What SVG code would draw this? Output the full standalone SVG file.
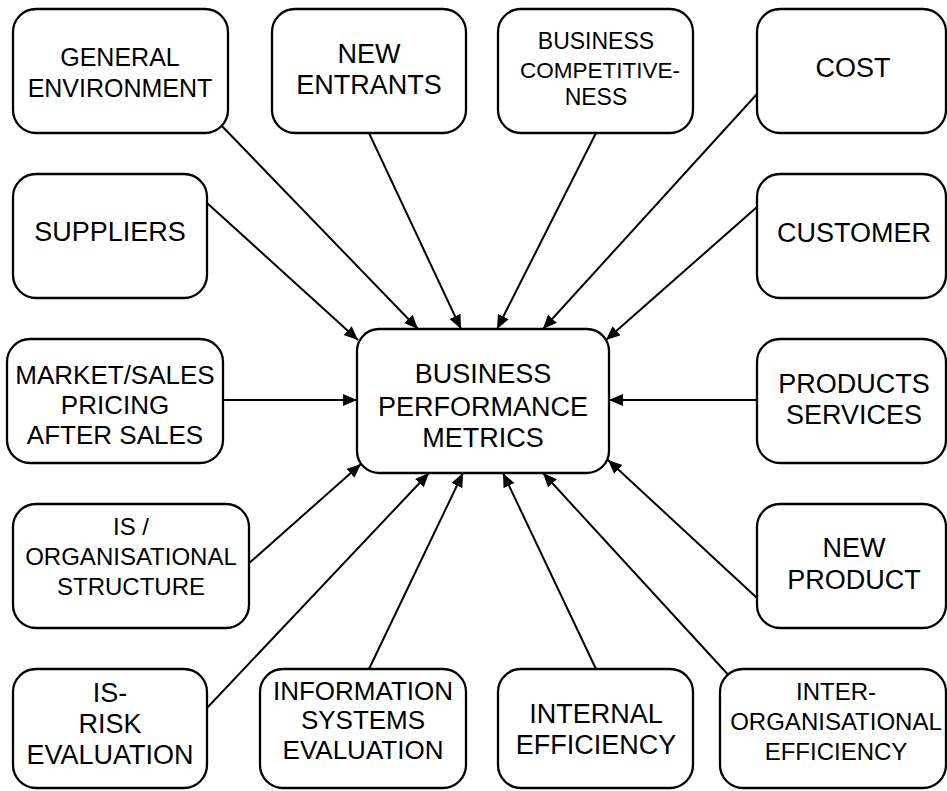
<svg xmlns="http://www.w3.org/2000/svg" width="947" height="791" viewBox="0 0 947 791">
<style>
.box{fill:#fff;stroke:#000;stroke-width:2.3}
.t{font-family:"Liberation Sans",Arial,sans-serif;text-anchor:middle;fill:#000}
.c line{stroke:#000;stroke-width:2}
</style>
<defs>
<marker id="ah" markerUnits="userSpaceOnUse" markerWidth="15" markerHeight="13" refX="14" refY="6" orient="auto">
<path d="M0,0 L14,6 L0,12 z" fill="#000"/>
</marker>
</defs>
<rect width="947" height="791" fill="#fff"/>
<g class="c">
<line x1="219" y1="123" x2="418" y2="329" marker-end="url(#ah)"/>
<line x1="369" y1="133" x2="461" y2="329" marker-end="url(#ah)"/>
<line x1="596" y1="133" x2="497" y2="329" marker-end="url(#ah)"/>
<line x1="757" y1="94" x2="543" y2="329" marker-end="url(#ah)"/>
<line x1="207" y1="203" x2="358" y2="340" marker-end="url(#ah)"/>
<line x1="757" y1="207" x2="606" y2="340" marker-end="url(#ah)"/>
<line x1="223" y1="400" x2="357" y2="400" marker-end="url(#ah)"/>
<line x1="757" y1="400" x2="609" y2="400" marker-end="url(#ah)"/>
<line x1="247" y1="565" x2="361" y2="464" marker-end="url(#ah)"/>
<line x1="207" y1="708" x2="429" y2="473" marker-end="url(#ah)"/>
<line x1="369" y1="669" x2="463" y2="473" marker-end="url(#ah)"/>
<line x1="596" y1="669" x2="503" y2="473" marker-end="url(#ah)"/>
<line x1="733" y1="680" x2="543" y2="473" marker-end="url(#ah)"/>
<line x1="757" y1="598" x2="608" y2="460" marker-end="url(#ah)"/>
</g>
<g id="general-environment"><rect class="box" x="13" y="9" width="215" height="124" rx="23"/><text class="t" font-size="25" x="120" y="66">GENERAL</text><text class="t" font-size="25" x="120" y="97">ENVIRONMENT</text></g>
<g id="new-entrants"><rect class="box" x="272" y="9" width="194" height="124" rx="23"/><text class="t" font-size="27" x="369" y="63">NEW</text><text class="t" font-size="27" x="369" y="94">ENTRANTS</text></g>
<g id="business-competitiveness"><rect class="box" x="498" y="9" width="195" height="124" rx="23"/><text class="t" font-size="23" x="596" y="49">BUSINESS</text><text class="t" font-size="22.5" x="600" y="78">COMPETITIVE-</text><text class="t" font-size="23" x="596" y="105">NESS</text></g>
<g id="cost"><rect class="box" x="757" y="9" width="189" height="124" rx="23"/><text class="t" font-size="27" x="853" y="77">COST</text></g>
<g id="suppliers"><rect class="box" x="13" y="174" width="194" height="124" rx="23"/><text class="t" font-size="27" x="110" y="241">SUPPLIERS</text></g>
<g id="customer"><rect class="box" x="757" y="174" width="189" height="124" rx="23"/><text class="t" font-size="27" x="854" y="242">CUSTOMER</text></g>
<g id="market-sales"><rect class="box" x="7" y="339" width="216" height="124" rx="23"/><text class="t" font-size="26" x="115" y="384">MARKET/SALES</text><text class="t" font-size="26" x="115" y="414">PRICING</text><text class="t" font-size="26" x="115" y="444">AFTER SALES</text></g>
<g id="business-performance-metrics"><rect class="box" x="357" y="329" width="252" height="144" rx="22"/><text class="t" font-size="27" x="483" y="383">BUSINESS</text><text class="t" font-size="27" x="483" y="416">PERFORMANCE</text><text class="t" font-size="27" x="483" y="447">METRICS</text></g>
<g id="products-services"><rect class="box" x="757" y="339" width="189" height="124" rx="23"/><text class="t" font-size="27" x="854" y="393">PRODUCTS</text><text class="t" font-size="27" x="854" y="424">SERVICES</text></g>
<g id="is-organisational-structure"><rect class="box" x="13" y="504" width="236" height="124" rx="23"/><text class="t" font-size="24" x="131" y="535">IS /</text><text class="t" font-size="24" x="131" y="565">ORGANISATIONAL</text><text class="t" font-size="24" x="131" y="595">STRUCTURE</text></g>
<g id="new-product"><rect class="box" x="757" y="504" width="189" height="124" rx="23"/><text class="t" font-size="27" x="854" y="557">NEW</text><text class="t" font-size="27" x="854" y="589">PRODUCT</text></g>
<g id="is-risk-evaluation"><rect class="box" x="13" y="669" width="194" height="119" rx="23"/><text class="t" font-size="27" x="110" y="702">IS-</text><text class="t" font-size="27" x="110" y="733">RISK</text><text class="t" font-size="27" x="110" y="764">EVALUATION</text></g>
<g id="information-systems-evaluation"><rect class="box" x="260" y="669" width="206" height="119" rx="23"/><text class="t" font-size="26" x="363" y="700">INFORMATION</text><text class="t" font-size="26" x="363" y="729">SYSTEMS</text><text class="t" font-size="26" x="363" y="759">EVALUATION</text></g>
<g id="internal-efficiency"><rect class="box" x="498" y="669" width="195" height="119" rx="23"/><text class="t" font-size="27" x="596" y="723">INTERNAL</text><text class="t" font-size="27" x="596" y="754">EFFICIENCY</text></g>
<g id="inter-organisational-efficiency"><rect class="box" x="720" y="669" width="226" height="119" rx="23"/><text class="t" font-size="24" x="836" y="700">INTER-</text><text class="t" font-size="24" x="836" y="730">ORGANISATIONAL</text><text class="t" font-size="24" x="836" y="760">EFFICIENCY</text></g>
</svg>
